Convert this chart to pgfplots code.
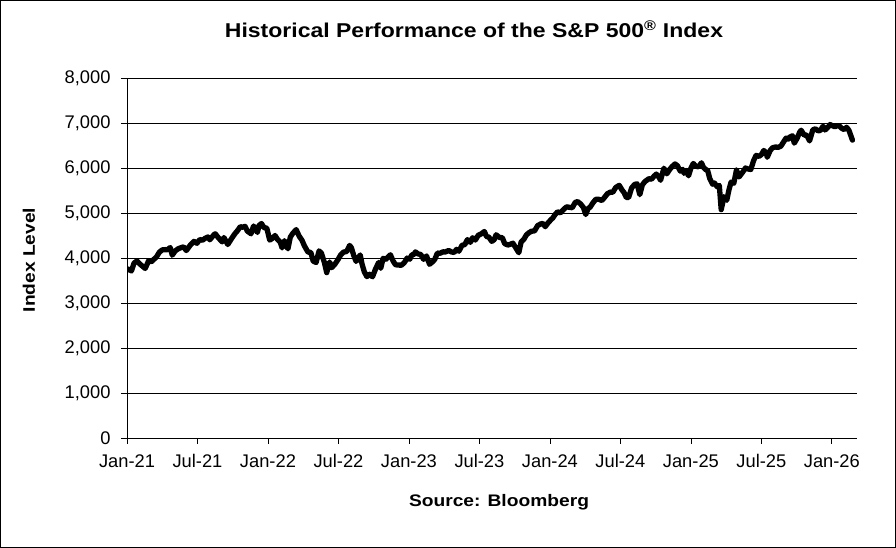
\documentclass[border=0pt]{standalone}
\usepackage{fontspec}
\setmainfont{Liberation Sans}
\newfontfamily\bfont{Liberation Sans Bold}[FakeStretch=1.15]
\usepackage{pgfplots}
\pgfplotsset{compat=1.18}
\usepackage{pgfplotstable}
\pgfplotstableread{
m v
0.50 3768
0.93 3714
1.15 3887
1.40 3934
1.60 3876
1.90 3811
2.10 3768
2.40 3943
2.60 3913
2.85 3974
3.05 4019
3.30 4128
3.55 4180
3.80 4186
3.97 4181
4.23 4232
4.40 4063
4.65 4156
4.90 4204
5.15 4230
5.37 4247
5.60 4166
5.97 4297
6.25 4369
6.50 4327
6.75 4411
6.97 4395
7.20 4437
7.43 4468
7.60 4405
7.97 4523
8.07 4537
8.30 4458
8.65 4358
8.80 4455
9.13 4300
9.35 4391
9.55 4471
9.75 4545
9.95 4605
10.20 4697
10.40 4683
10.60 4704
10.80 4595
10.97 4567
11.10 4538
11.33 4712
11.65 4568
11.80 4725
12.00 4766
12.20 4677
12.45 4662
12.70 4398
12.90 4432
13.15 4500
13.35 4418
13.60 4349
13.75 4225
13.95 4385
14.25 4204
14.45 4463
14.65 4543
14.95 4631
15.20 4488
15.45 4392
15.65 4271
15.95 4132
16.20 4123
16.40 3930
16.65 3901
16.90 4158
17.10 4108
17.35 3901
17.55 3675
17.80 3911
17.97 3785
18.25 3863
18.50 3961
18.75 4072
18.97 4130
19.25 4145
19.50 4280
19.65 4228
19.85 4057
20.05 3924
20.40 4067
20.55 3873
20.75 3693
20.97 3586
21.20 3639
21.45 3583
21.70 3752
21.97 3901
22.15 3771
22.35 3993
22.55 3965
22.80 4026
22.97 4072
23.20 3934
23.40 3852
23.60 3844
23.90 3839
24.15 3895
24.40 3999
24.62 3972
24.80 4071
24.97 4077
25.10 4136
25.33 4090
25.55 4079
25.80 3970
26.05 4045
26.30 3861
26.57 3917
26.75 3971
26.97 4109
27.20 4105
27.45 4137
27.65 4133
27.93 4169
28.15 4136
28.40 4124
28.60 4192
28.80 4151
29.07 4282
29.30 4298
29.53 4409
29.77 4348
29.97 4450
30.20 4399
30.45 4505
30.70 4536
30.97 4589
31.15 4478
31.35 4464
31.60 4370
31.80 4406
31.97 4516
32.25 4457
32.50 4450
32.70 4320
32.97 4288
33.20 4308
33.40 4328
33.65 4224
33.90 4117
34.10 4358
34.33 4415
34.55 4514
34.75 4559
34.97 4594
35.25 4604
35.50 4719
35.75 4755
35.95 4770
36.15 4697
36.40 4784
36.60 4840
36.80 4891
36.97 4958
37.20 5026
37.45 5005
37.75 5089
37.97 5137
38.25 5124
38.45 5117
38.70 5234
38.90 5254
39.15 5204
39.40 5123
39.60 4967
39.80 5100
39.97 5128
40.20 5222
40.45 5303
40.70 5305
40.97 5278
41.20 5347
41.45 5431
41.70 5464
41.90 5460
42.15 5567
42.45 5615
42.70 5505
42.85 5459
43.05 5346
43.25 5344
43.50 5554
43.75 5634
43.97 5648
44.20 5408
44.42 5626
44.65 5702
44.85 5738
44.97 5762
45.20 5751
45.40 5815
45.60 5865
45.80 5808
45.97 5728
46.25 5995
46.50 5870
46.75 5969
46.95 6032
47.20 6090
47.40 6051
47.65 5930
47.85 5970
47.97 5882
48.15 5942
48.35 5827
48.55 5996
48.75 6101
48.97 6040
49.20 6026
49.45 6115
49.62 6013
49.85 5955
49.97 5954
50.15 5770
50.40 5639
50.55 5667
50.80 5581
50.97 5612
51.13 5074
51.37 5363
51.60 5282
51.80 5525
51.97 5686
52.20 5659
52.43 5958
52.65 5802
52.97 5912
53.20 6000
53.43 5977
53.65 5967
53.90 6173
54.10 6279
54.35 6260
54.55 6297
54.75 6389
54.97 6339
55.05 6238
55.30 6389
55.50 6450
55.75 6466
55.97 6460
56.20 6482
56.45 6584
56.65 6664
56.85 6643
56.97 6688
57.20 6715
57.35 6552
57.60 6664
57.80 6791
57.93 6840
58.20 6728
58.40 6734
58.65 6602
58.93 6849
59.15 6870
59.37 6827
59.57 6834
59.80 6929
59.97 6845
60.20 6900
60.40 6966
60.60 6940
60.80 6916
61.00 6939
61.20 6932
61.40 6880
61.60 6855
61.80 6905
62.00 6840
62.30 6620
}\spx
\begin{document}
\begin{tikzpicture}
\begin{axis}[
  at={(0pt,0pt)}, anchor=south west,
  scale only axis, width=730pt, height=360pt,
  xmin=0, xmax=62.14, ymin=0, ymax=8000,
  axis x line=bottom, axis y line=left,
  axis line style={-, black, line width=0.8pt},
  xtick={0,6,...,60},
  xticklabels={Jan-21,Jul-21,Jan-22,Jul-22,Jan-23,Jul-23,Jan-24,Jul-24,Jan-25,Jul-25,Jan-26},
  ytick={0,1000,...,8000},
  ymajorgrids, grid style={black, line width=0.8pt},
  tick align=outside, major tick length=6pt,
  tick style={black, line width=0.8pt},
  /pgf/number format/.cd, 1000 sep={,}, assume math mode=true,
  /pgfplots/.cd,
  tick label style={font=\fontsize{18.3}{20}\selectfont, black},
  yticklabel style={anchor=east, xshift=-7pt},
  xticklabel style={anchor=base, yshift=-24pt},
  clip=true,
]
\addplot[black, line width=5.3pt, line join=round, line cap=round] table[x expr=\thisrow{m}-0.55, y=v] {\spx};
\end{axis}
\node[font=\bfont\fontsize{20}{24}\selectfont, anchor=base] at (347pt,400pt) {Historical Performance of the S\&P 500\textsuperscript{®} Index};
\node[font=\bfont\fontsize{16.7}{20}\selectfont, rotate=90, anchor=base] at (-92pt,178pt) {Index Level};
\node[font=\bfont\fontsize{16.7}{20}\selectfont, anchor=base] at (372pt,-69pt) {Source: Bloomberg};
\draw[line width=1pt, black] (-126.5pt,-109.5pt) rectangle (768.5pt,437.5pt);
\end{tikzpicture}
\end{document}
